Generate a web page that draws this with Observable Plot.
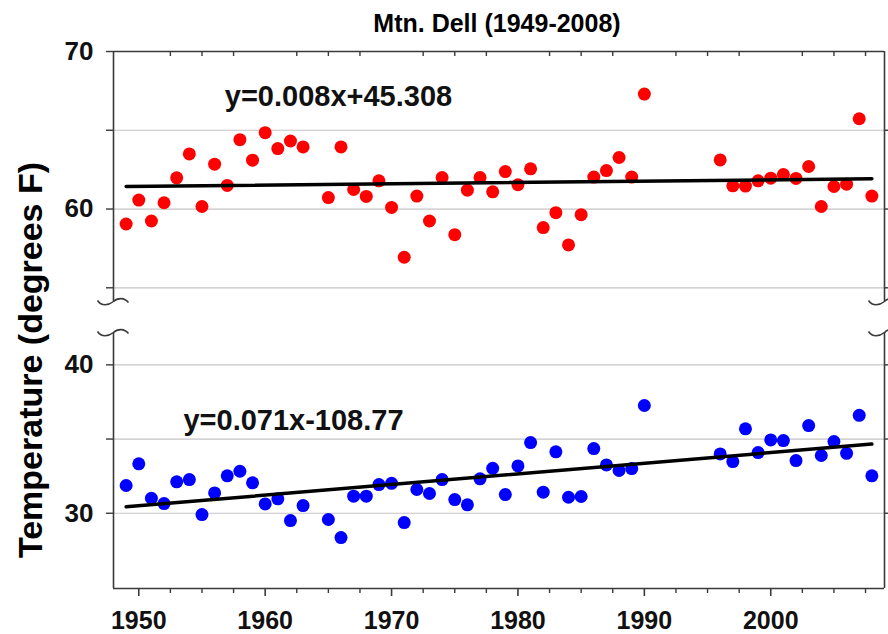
<!DOCTYPE html>
<html>
<head>
<meta charset="utf-8">
<script src="https://cdn.jsdelivr.net/npm/d3@7"></script>
<script src="https://cdn.jsdelivr.net/npm/@observablehq/plot@0.6"></script>
<style>
  body { margin: 0; background: #fff; }
  #wrap { position: relative; width: 888px; height: 634px; font-family: "Liberation Sans", Arial, sans-serif; background: #fff; }
  #title { position: absolute; left: 106px; right: 0; top: 9px; line-height: 28px; text-align: center; font-weight: bold; font-size: 25px; color: #000; z-index: 1; }
  #ylabel { position: absolute; left: 30px; top: 360px; transform: translate(-50%, -50%) rotate(-90deg); white-space: nowrap; font-weight: bold; font-size: 34px; color: #000; z-index: 1; }
  svg { display: block; }
</style>
</head>
<body>
<div id="wrap">
  <div id="panelHigh"></div>
  <div id="panelLow"></div>
  <div id="title"></div>
  <div id="ylabel"></div>
</div>
<script>
// ---- data ----
const titleText = "Mtn. Dell (1949-2008)";
const yLabelText = "Temperature (degrees F)";
const years = [1949,1950,1951,1952,1953,1954,1955,1956,1957,1958,1959,1960,1961,1962,1963,
  1965,1966,1967,1968,1969,1970,1971,1972,1973,1974,1975,1976,1977,1978,1979,1980,1981,1982,1983,1984,1985,1986,1987,1988,1989,1990,
  1996,1997,1998,1999,2000,2001,2002,2003,2004,2005,2006,2007,2008];
const highTemps = [59.05,60.57,59.24,60.4,61.98,63.5,60.16,62.85,61.5,64.4,63.1,64.85,63.84,64.32,63.94,
  60.73,63.94,61.24,60.8,61.79,60.1,56.94,60.82,59.24,62.0,58.37,61.2,62.0,61.09,62.38,61.54,62.55,58.82,59.77,57.72,59.64,62.03,62.44,63.27,62.03,67.3,
  63.12,61.47,61.46,61.79,61.96,62.19,61.94,62.7,60.16,61.43,61.58,65.73,60.82];
const lowTemps = [31.87,33.33,31.01,30.65,32.12,32.27,29.91,31.37,32.52,32.83,32.05,30.63,30.97,29.51,30.52,
  29.58,28.36,31.15,31.15,31.93,32.02,29.37,31.6,31.33,32.27,30.92,30.57,32.32,33.03,31.26,33.19,34.76,31.42,34.14,31.08,31.13,34.36,33.26,32.88,33.01,37.26,
  34.0,33.48,35.69,34.09,34.94,34.9,33.55,35.91,33.89,34.83,34.04,36.6,32.52];
const eqHigh = ["y=0.008x+45.308"];
const eqLow = ["y=0.071x-108.77"];
const xDomain = [1948, 2009];
const yDomainHigh = [54.13, 70];
const yDomainLow = [24.93, 42.18];
const majorYears = [1950, 1960, 1970, 1980, 1990, 2000];
const minorYears = d3.range(1950, 2009, 2.5).filter(d => d % 10 !== 0);
const yTicksHigh = [55, 60, 65, 70];
const yLabelsHigh = [60, 70];
const yTicksLow = [30, 35, 40];
const yLabelsLow = [30, 40];

document.getElementById("title").textContent = titleText;
document.getElementById("ylabel").textContent = yLabelText;

const highRows = years.map((year, i) => ({year, t: highTemps[i]}));
const lowRows = years.map((year, i) => ({year, t: lowTemps[i]}));

const axisColor = "#3a3a3a";
const gridColor = "#c4c4c4";
const font = {fontFamily: "Liberation Sans, Arial, sans-serif", fontWeight: "bold", background: "transparent"};

// break squiggle symbol (sine-like "~")
const squiggle = {
  draw(ctx) {
    ctx.moveTo(-16, -1);
    ctx.bezierCurveTo(-12, 5, -5, 4, 0, 0);
    ctx.bezierCurveTo(4, -4, 11, -4, 15, 1);
  }
};

const chartHigh = Plot.plot({
  width: 888, height: 308,
  marginLeft: 113, marginRight: 4, marginTop: 51, marginBottom: 7,
  style: font,
  x: {domain: xDomain},
  y: {domain: yDomainHigh},
  marks: [
    Plot.ruleY(yTicksHigh.filter(d => d < yDomainHigh[1]), {stroke: gridColor, strokeWidth: 1.2}),
    Plot.ruleX(xDomain, {stroke: axisColor, strokeWidth: 1.6}),
    Plot.ruleY([yDomainHigh[1]], {stroke: axisColor, strokeWidth: 1.6}),
    Plot.axisY({anchor: "left", ticks: yTicksHigh, tickSize: 7, tickPadding: 13, stroke: axisColor, strokeWidth: 1.4,
      tickFormat: d => yLabelsHigh.includes(d) ? String(d) : "", fontSize: 26, fontWeight: "bold", fill: "#111", label: null}),
    Plot.axisY({anchor: "right", ticks: yTicksHigh.filter(d => d < yDomainHigh[1]), tickSize: 4, stroke: axisColor, strokeWidth: 1.4,
      tickFormat: () => "", label: null}),
    Plot.axisX({anchor: "top", ticks: minorYears, tickSize: 4, dy: 4, stroke: axisColor, strokeWidth: 1.4,
      tickFormat: () => "", label: null}),
    Plot.dot(highRows, {x: "year", y: "t", r: 6.5, fill: "#ff0000", stroke: "none"}),
    Plot.linearRegressionY(highRows, {x: "year", y: "t", stroke: "#000", strokeWidth: 3.5, ci: 0}),
    Plot.text(eqHigh, {text: d => d, frameAnchor: "top-left", dx: 225, dy: 45, textAnchor: "middle", lineAnchor: "middle",
      fontSize: 29, fontWeight: "bold", fill: "#111"}),
    Plot.dot([0], {frameAnchor: "bottom-left", symbol: squiggle, fill: "none", stroke: axisColor, strokeWidth: 1.6}),
    Plot.dot([0], {frameAnchor: "bottom-right", symbol: squiggle, fill: "none", stroke: axisColor, strokeWidth: 1.6})
  ]
});

const chartLow = Plot.plot({
  width: 888, height: 326,
  marginLeft: 113, marginRight: 4, marginTop: 24, marginBottom: 46,
  style: font,
  x: {domain: xDomain},
  y: {domain: yDomainLow},
  marks: [
    Plot.ruleY(yTicksLow, {stroke: gridColor, strokeWidth: 1.2}),
    Plot.ruleX(xDomain, {stroke: axisColor, strokeWidth: 1.6}),
    Plot.ruleY([yDomainLow[0]], {stroke: axisColor, strokeWidth: 1.6}),
    Plot.axisY({anchor: "left", ticks: yTicksLow, tickSize: 7, tickPadding: 13, stroke: axisColor, strokeWidth: 1.4,
      tickFormat: d => yLabelsLow.includes(d) ? String(d) : "", fontSize: 26, fontWeight: "bold", fill: "#111", label: null}),
    Plot.axisY({anchor: "right", ticks: yTicksLow, tickSize: 4, stroke: axisColor, strokeWidth: 1.4,
      tickFormat: () => "", label: null}),
    Plot.axisX({anchor: "bottom", ticks: minorYears, tickSize: 5, stroke: axisColor, strokeWidth: 1.4,
      tickFormat: () => "", label: null}),
    Plot.axisX({anchor: "bottom", ticks: majorYears, tickSize: 8, tickPadding: 15, stroke: axisColor, strokeWidth: 1.6,
      tickFormat: d => String(d), fontSize: 25, fontWeight: "bold", fill: "#111", label: null}),
    Plot.dot(lowRows, {x: "year", y: "t", r: 6.5, fill: "#0000ff", stroke: "none"}),
    Plot.linearRegressionY(lowRows, {x: "year", y: "t", stroke: "#000", strokeWidth: 3.5, ci: 0}),
    Plot.text(eqLow, {text: d => d, frameAnchor: "top-left", dx: 180, dy: 88, textAnchor: "middle", lineAnchor: "middle",
      fontSize: 29, fontWeight: "bold", fill: "#111"}),
    Plot.dot([0], {frameAnchor: "top-left", symbol: squiggle, fill: "none", stroke: axisColor, strokeWidth: 1.6}),
    Plot.dot([0], {frameAnchor: "top-right", symbol: squiggle, fill: "none", stroke: axisColor, strokeWidth: 1.6})
  ]
});

document.getElementById("panelHigh").appendChild(chartHigh);
document.getElementById("panelLow").appendChild(chartLow);
</script>
</body>
</html>
